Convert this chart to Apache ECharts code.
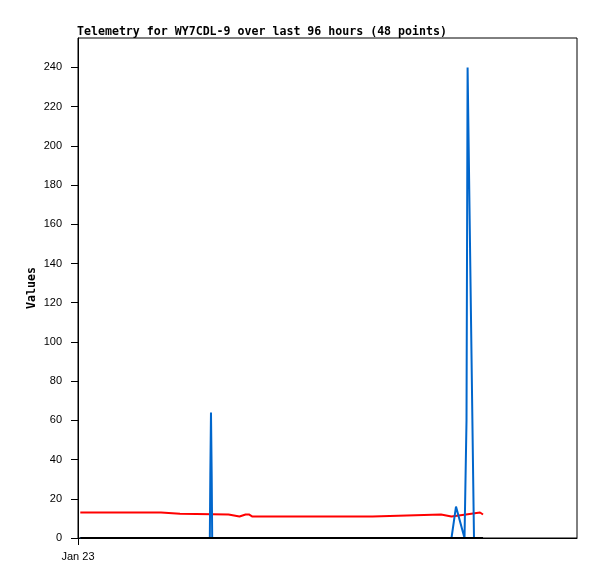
<!DOCTYPE html>
<html>
<head>
<meta charset="utf-8">
<script src="https://cdn.jsdelivr.net/npm/echarts@6/dist/echarts.min.js"></script>
<style>
  html, body { margin: 0; padding: 0; background: #fff; }
</style>
</head>
<body>
<div id="chart_telemetry" style="width:597px;height:579px"></div>
<script>
// x = hours since start of Jan 23, y = telemetry value
const redSeries = [
  [0.55, 13], [19.96, 13], [20.2, 12.4], [24.53, 12.4], [24.77, 12],
  [36.19, 12], [36.43, 11], [38.84, 11], [39.2, 12], [40.3, 12],
  [40.7, 11], [41.1, 12], [41.4, 12], [41.85, 11], [70.82, 11],
  [71.07, 12], [87.3, 12], [87.54, 11], [89.8, 11], [90.05, 12],
  [93.31, 12], [93.55, 13], [96.68, 13], [97.4, 12]
];
const blueSeries = [
  [0.55, 0], [31.7, 0], [31.82, 32], [31.98, 64], [32.15, 32], [32.27, 0],
  [89.82, 0], [90.9, 16], [92.95, 0], [93.43, 60], [93.69, 240],
  [95.23, 0], [97.4, 0]
];
const blackSeries = [[0.55, 0], [97.4, 0]];
const yTicks = [0, 20, 40, 60, 80, 100, 120, 140, 160, 180, 200, 220, 240];
const xTicks = [0];
const xTickLabels = ["Jan 23"];

const chart = echarts.init(document.getElementById("chart_telemetry"));
chart.setOption({
  animation: false,
  title: {
    text: "Telemetry for WY7CDL-9 over last 96 hours (48 points)",
    left: 77,
    top: 26,
    padding: 0,
    textStyle: {
      fontFamily: "DejaVu Sans Mono",
      fontWeight: "bold",
      fontSize: 11.6,
      color: "#000"
    }
  },
  grid: {
    left: 78,
    right: 20,
    top: 38,
    bottom: 41,
    show: true,
    borderColor: "#000",
    borderWidth: 1,
    backgroundColor: "#fff"
  },
  xAxis: {
    type: "value",
    min: 0,
    max: 120,
    axisLine: { show: true, lineStyle: { color: "#000", width: 1 } },
    axisTick: { show: true, length: 7, customValues: xTicks, lineStyle: { color: "#000" } },
    axisLabel: {
      customValues: xTicks,
      formatter: function (v) { return xTickLabels[xTicks.indexOf(v)] || ""; },
      color: "#000",
      fontFamily: "Liberation Sans",
      fontSize: 11,
      margin: 13
    },
    splitLine: { show: false }
  },
  yAxis: {
    type: "value",
    min: 0,
    max: 255,
    name: "Values",
    nameLocation: "middle",
    nameGap: 40,
    nameMoveOverlap: false,
    nameTextStyle: {
      fontFamily: "DejaVu Sans Mono",
      fontWeight: "bold",
      fontSize: 11.6,
      color: "#000"
    },
    axisLine: { show: true, lineStyle: { color: "#000", width: 1 } },
    axisTick: { show: true, length: 7, customValues: yTicks, lineStyle: { color: "#000" } },
    axisLabel: {
      customValues: yTicks,
      color: "#000",
      fontFamily: "Liberation Sans",
      fontSize: 11,
      margin: 16
    },
    splitLine: { show: false }
  },
  series: [
    {
      type: "line",
      data: redSeries,
      showSymbol: false,
      lineStyle: { color: "#ff0000", width: 2 }
    },
    {
      type: "line",
      data: blueSeries,
      showSymbol: false,
      lineStyle: { color: "#0066cc", width: 2 }
    },
    {
      type: "line",
      data: blackSeries,
      showSymbol: false,
      lineStyle: { color: "#000", width: 2 }
    }
  ]
});
</script>
</body>
</html>
